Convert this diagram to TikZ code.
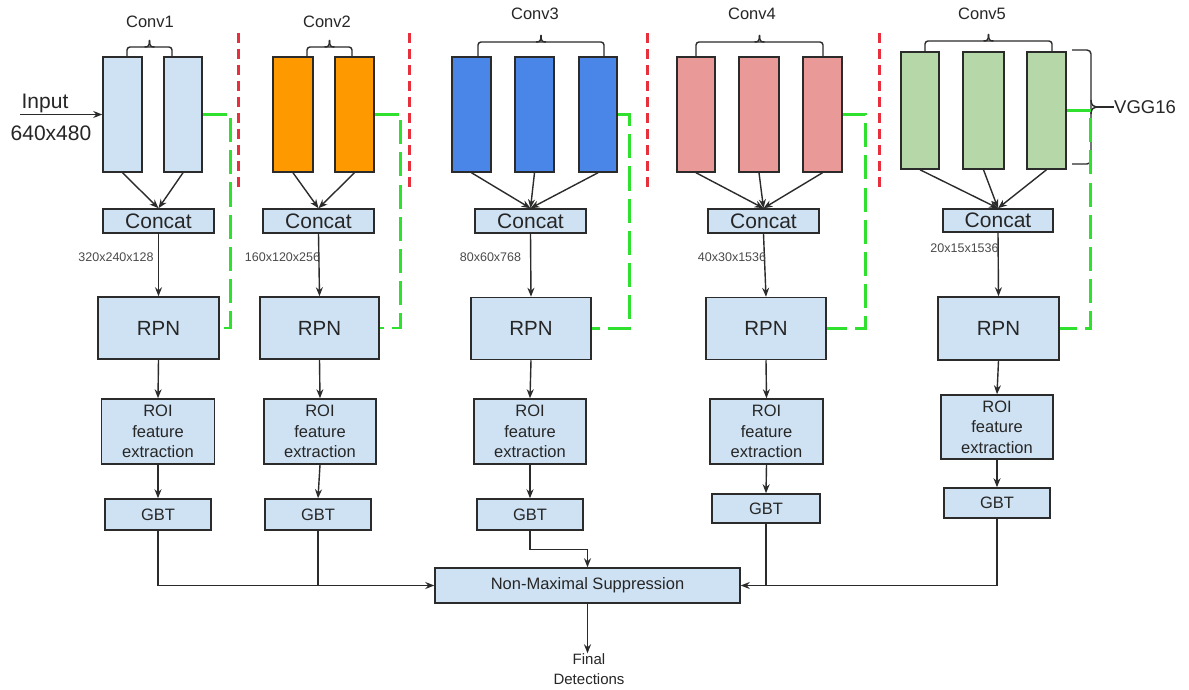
\documentclass[tikz,border=0pt]{standalone}
\usepackage{fontspec}
\setmainfont{Liberation Sans}
\usetikzlibrary{arrows.meta,calc}
\definecolor{lb}{HTML}{CFE2F3}
\definecolor{org}{HTML}{FF9900}
\definecolor{blu}{HTML}{4A86E8}
\definecolor{pnk}{HTML}{EA9999}
\definecolor{grn}{HTML}{B6D7A8}
\definecolor{edge}{HTML}{2B2B2B}
\definecolor{txt}{HTML}{262626}
\definecolor{dimtxt}{HTML}{4A4A4A}
\definecolor{gline}{HTML}{2FE02F}
\definecolor{rline}{HTML}{E8303C}
\newcommand\mybrace[4]{%
  \draw[brc,rounded corners=3pt] (#1,#4) -- (#1,#3) -- (#2,#3) -- (#2,#4);
  \pgfmathsetmacro\xm{(#1+#2)/2}
  \draw[brc] (\xm-5,#3) .. controls (\xm-1,#3) and (\xm,#3-1) .. (\xm,#3-7);
  \draw[brc] (\xm+5,#3) .. controls (\xm+1,#3) and (\xm,#3-1) .. (\xm,#3-7);
}
\begin{document}
\begin{tikzpicture}[x=1pt,y=-1pt,
  box/.style={draw=edge,line width=1.5pt,inner sep=0pt,text=txt,align=center},
  lbox/.style={box,fill=lb},
  convbox/.style={draw=edge,line width=1.5pt,inner sep=0pt,minimum height=115pt},
  arr/.style={draw=edge,line width=1.4pt,-{Stealth[length=9pt,width=7pt]}},
  ln/.style={draw=edge,line width=1.4pt},
  brc/.style={draw=edge,line width=1.4pt},
  gdash/.style={draw=gline,line width=2.8pt,dash pattern=on 24pt off 8pt},
  rdash/.style={draw=rline,line width=3pt,dash pattern=on 10pt off 6pt},
  fbig/.style={font=\fontsize{21}{25}\selectfont},
  frpn/.style={font=\fontsize{20.5}{24}\selectfont},
  fmid/.style={font=\fontsize{16.5}{20.5}\selectfont},
  fdim/.style={font=\fontsize{12.5}{15}\selectfont,text=dimtxt,inner sep=0pt},
]
\useasboundingbox[fill=white] (0,0) rectangle (1189,690);

% ---------- conv blocks ----------
\node[convbox,fill=lb,minimum width=39pt] (c1a) at (122.5,114.5) {};
\node[convbox,fill=lb,minimum width=38pt] (c1b) at (183,114.5) {};
\node[convbox,fill=org,minimum width=40pt] (c2a) at (293,114.5) {};
\node[convbox,fill=org,minimum width=39pt] (c2b) at (354.5,114.5) {};
\node[convbox,fill=blu,minimum width=39pt] (c3a) at (471.5,114.5) {};
\node[convbox,fill=blu,minimum width=39pt] (c3b) at (534.5,114.5) {};
\node[convbox,fill=blu,minimum width=38pt] (c3c) at (598,114.5) {};
\node[convbox,fill=pnk,minimum width=38pt] (c4a) at (696,114.5) {};
\node[convbox,fill=pnk,minimum width=40pt] (c4b) at (759,114.5) {};
\node[convbox,fill=pnk,minimum width=39pt] (c4c) at (822.5,114.5) {};
\node[convbox,fill=grn,minimum width=38pt,minimum height=117pt] (c5a) at (920,110.5) {};
\node[convbox,fill=grn,minimum width=41pt,minimum height=117pt] (c5b) at (983.5,110.5) {};
\node[convbox,fill=grn,minimum width=39pt,minimum height=117pt] (c5c) at (1046.5,110.5) {};

% ---------- conv labels and braces ----------
\node[fmid,text=txt] (l1) at (150,22) {Conv1};
\node[fmid,text=txt] (l2) at (327,22) {Conv2};
\node[fmid,text=txt] (l3) at (535,14) {Conv3};
\node[fmid,text=txt] (l4) at (752,14) {Conv4};
\node[fmid,text=txt] (l5) at (982,14) {Conv5};
\mybrace{127}{172}{47}{57}
\mybrace{307}{352}{47}{57}
\mybrace{478}{604}{42}{57}
\mybrace{696}{823}{42}{57}
\mybrace{925}{1052}{41}{52}

% VGG16 brace
\node[font=\fontsize{18.5}{22}\selectfont,text=txt,inner sep=0pt,anchor=west] (vgg) at (1114,107) {VGG16};
\draw[brc,rounded corners=4pt] (1072,50) -- (1091,50) -- (1091,164) -- (1072,164);
\draw[brc] (1091,100) .. controls (1091,105) and (1093,107) .. (1099,107);
\draw[brc] (1091,114) .. controls (1091,109) and (1093,107) .. (1099,107);
\coordinate (vtip) at (1099,107);
\draw[brc] (vtip) -- (vgg.west);

% ---------- input ----------
\node[fbig,text=txt,inner sep=0pt] (inlab) at (45,103) {Input};
\node[fbig,text=txt,inner sep=0pt] (insz) at (51,133) {640x480};
\coordinate (inp) at (20,114.5);
\draw[arr] (inp) -- (c1a.west);

% ---------- red separators ----------
\draw[rdash] (238,33) -- (238,193);
\draw[rdash] (409,33) -- (409,193);
\draw[rdash] (647,33) -- (647,193);
\draw[rdash] (879,33) -- (879,193);

% ---------- concat ----------
\node[lbox,fbig,minimum width=111pt,minimum height=24pt] (cc1) at (158.5,221) {Concat};
\node[lbox,fbig,minimum width=111pt,minimum height=24pt] (cc2) at (318.5,221) {Concat};
\node[lbox,fbig,minimum width=111pt,minimum height=24pt] (cc3) at (530.5,221) {Concat};
\node[lbox,fbig,minimum width=111pt,minimum height=24pt] (cc4) at (763.5,221) {Concat};
\node[lbox,fbig,minimum width=110pt,minimum height=23pt] (cc5) at (998,220.5) {Concat};

\foreach \c/\k in {c1a/cc1,c1b/cc1,c2a/cc2,c2b/cc2,c3a/cc3,c3b/cc3,c3c/cc3,c4a/cc4,c4b/cc4,c4c/cc4,c5a/cc5,c5b/cc5,c5c/cc5}
  \draw[arr] (\c.south) -- (\k.north);

% ---------- RPN ----------
\node[lbox,frpn,minimum width=121pt,minimum height=62pt] (rpn1) at (158.5,328) {RPN};
\node[lbox,frpn,minimum width=119pt,minimum height=62pt] (rpn2) at (319.5,328) {RPN};
\node[lbox,frpn,minimum width=120pt,minimum height=62pt] (rpn3) at (531,328.5) {RPN};
\node[lbox,frpn,minimum width=120pt,minimum height=62pt] (rpn4) at (766,328.5) {RPN};
\node[lbox,frpn,minimum width=121pt,minimum height=63pt] (rpn5) at (998.5,328.5) {RPN};

\foreach \i in {1,...,5}
  \draw[arr] (cc\i.south) -- (rpn\i.north);

% dimension labels
\node[fdim] (d1) at (116,257) {320x240x128};
\node[fdim] (d2) at (282.5,257) {160x120x256};
\node[fdim] (d3) at (490.5,257) {80x60x768};
\node[fdim] (d4) at (732,257) {40x30x1536};
\node[fdim] (d5) at (964.5,248) {20x15x1536};

% ---------- green skip connections ----------
\draw[gdash] (c1b.east) -- ++(28,0) |- (rpn1.east);
\draw[gdash] (c2b.east) -- ++(26,0) |- (rpn2.east);
\draw[gdash] (c3c.east) -- ++(12,0) |- (rpn3.east);
\draw[gdash] (c4c.east) -- ++(23,0) |- (rpn4.east);
\draw[gdash] (c5c.east) -- ++(24,0) |- (rpn5.east);

% ---------- ROI ----------
\node[lbox,fmid,minimum width=113pt,minimum height=65pt] (roi1) at (158,431.5) {ROI\\feature\\extraction};
\node[lbox,fmid,minimum width=112pt,minimum height=65pt] (roi2) at (320,431.5) {ROI\\feature\\extraction};
\node[lbox,fmid,minimum width=112pt,minimum height=65pt] (roi3) at (530,431.5) {ROI\\feature\\extraction};
\node[lbox,fmid,minimum width=113pt,minimum height=65pt] (roi4) at (766.5,431.5) {ROI\\feature\\extraction};
\node[lbox,fmid,minimum width=112pt,minimum height=64pt] (roi5) at (997,427) {ROI\\feature\\extraction};

\foreach \i in {1,...,5}
  \draw[arr] (rpn\i.south) -- (roi\i.north);

% ---------- GBT ----------
\node[lbox,fmid,minimum width=106pt,minimum height=31pt] (gbt1) at (158,514.5) {GBT};
\node[lbox,fmid,minimum width=106pt,minimum height=31pt] (gbt2) at (318,514.5) {GBT};
\node[lbox,fmid,minimum width=106pt,minimum height=31pt] (gbt3) at (530,514.5) {GBT};
\node[lbox,fmid,minimum width=108pt,minimum height=29pt] (gbt4) at (766,508.5) {GBT};
\node[lbox,fmid,minimum width=106pt,minimum height=30pt] (gbt5) at (997,503) {GBT};

\foreach \i in {1,...,5}
  \draw[arr] (roi\i.south) -- (gbt\i.north);

% ---------- NMS ----------
\node[lbox,fmid,minimum width=305pt,minimum height=35pt] (nms) at (587.5,585.5) {Non-Maximal Suppression};
\node[font=\fontsize{15}{20}\selectfont,text=txt,align=center,inner sep=0pt] (fd) at (589,669) {Final\\Detections};

\draw[arr] (gbt1.south) |- (nms.west);
\draw[ln] (gbt2.south) -- (gbt2.south |- nms.west);
\draw[arr] (gbt3.south) -- ++(0,19) -| (nms.north);
\draw[arr] (gbt5.south) |- (nms.east);
\draw[ln] (gbt4.south) -- (gbt4.south |- nms.east);
\draw[arr] (nms.south) -- (nms.south |- fd.north);
\end{tikzpicture}
\end{document}
